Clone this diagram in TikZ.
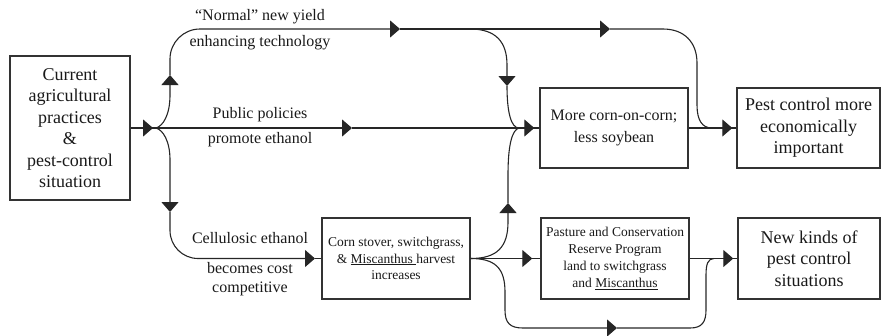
\documentclass[tikz,border=0pt]{standalone}
\usepackage{fontspec}
\setmainfont{Liberation Serif}
\usetikzlibrary{arrows.meta,decorations.markings}
\begin{document}
\begin{tikzpicture}[x=1pt,y=-1pt,
  ln/.style={line width=1.1pt,draw=black!85},
  bx/.style={draw=black!80,line width=1.4pt,align=center,inner sep=2pt,text=black!90},
  big/.style={font=\fontsize{18}{21.5}\selectfont},
  mid/.style={font=\fontsize{16}{22}\selectfont},
  sml/.style={font=\fontsize{13.5}{16.5}\selectfont},
  lab/.style={font=\fontsize{16}{19}\selectfont,align=center,text=black!90,inner sep=0pt},
  tip/.style={-{Triangle[length=10pt,width=17pt]}},
  arrowend/.style={postaction={decorate},decoration={markings,
     mark=at position -#1 with {\arrow{Triangle[length=10pt,width=17pt]}}}}
]
\useasboundingbox (0,0) rectangle (882,335);

% boxes
\node[bx,big,minimum width=120pt,minimum height=144pt] (cur) at (70,128)
  {Current\\agricultural\\practices\\\&\\pest-control\\situation};
\node[bx,mid,minimum width=148pt,minimum height=80pt] (corn) at (614,128)
  {More corn-on-corn;\\less soybean};
\node[bx,big,minimum width=143pt,minimum height=80pt] (pest) at (808.5,128)
  {Pest control more\\economically\\important};
\node[bx,sml,minimum width=148pt,minimum height=81pt] (stover) at (396,258.5)
  {Corn stover, switchgrass,\\\& \underline{Miscanthus }harvest\\increases};
\node[bx,sml,font=\fontsize{13.5}{17}\selectfont,minimum width=148pt,minimum height=81pt] (pasture) at (615,258.5)
  {Pasture and Conservation\\Reserve Program\\land to switchgrass\\and \underline{Miscanthus}};
\node[bx,big,minimum width=142pt,minimum height=81pt] (newk) at (809,258.5)
  {New kinds of\\pest control\\situations};

% labels
\node[lab] (l1a) at (260,17) {“Normal” new yield};
\node[lab] (l1b) at (260,43) {enhancing technology};
\node[lab] (l2a) at (260,115) {Public policies};
\node[lab] (l2b) at (260,140) {promote ethanol};
\node[lab] (l3a) at (250,238) {Cellulosic ethanol};
\node[lab,font=\fontsize{16}{18.5}\selectfont] (l3b) at (250,279) {becomes cost\\competitive};

% coordinates
\coordinate (J1) at (156,128);
\coordinate (U) at (170,75);
\coordinate (T1) at (400,29);
\coordinate (S1) at (470,29);
\coordinate (T2) at (610,29);
\coordinate (D1) at (507,86);
\coordinate (J2) at (519,128);
\coordinate (M1) at (352,128);
\coordinate (J3) at (712,128);
\coordinate (D2) at (170,212);
\coordinate (L1) at (315,258.5);
\coordinate (U2) at (508,203);
\coordinate (B1) at (617,328);
\coordinate (J4) at (714,258.5);

% left
\draw[ln,arrowend=3pt] (cur.east) -- (J1);
% upper branch
\draw[ln,tip] (J1) .. controls (163,126) and (170,115) .. (170,95) -- (U);
\draw[ln,tip,rounded corners=30pt] (U) |- (T1);
\draw[ln] (T1) -- (S1);
\draw[ln,tip] (S1) -- (T2);
\draw[ln] (T2) -- (663,29) .. controls (684,29) and (697,42) .. (697,63) -- (697,105)
   .. controls (697,120) and (702,128) .. (J3);
\draw[ln,tip] (S1) .. controls (496,29) and (507,42) .. (507,65) -- (D1);
\draw[ln] (D1) .. controls (507,112) and (511,128) .. (J2);
% middle
\draw[ln,tip] (J1) -- (M1);
\draw[ln] (M1) -- (J2);
\draw[ln,arrowend=5pt] (J2) -- (corn.west);
\draw[ln,arrowend=4pt] (corn.east) -- (pest.west);
% lower branch
\draw[ln,tip] (J1) .. controls (163,130) and (170,141) .. (170,160) -- (D2);
\draw[ln,tip,rounded corners=28pt] (D2) |- (L1);
\draw[ln] (L1) -- (stover.west);
% from stover
\draw[ln,tip] (stover.east) .. controls (497,258.5) and (508,247) .. (508,222) -- (U2);
\draw[ln] (U2) -- (508,175) .. controls (508,145) and (512,130) .. (J2);
\draw[ln,arrowend=8pt] (stover.east) -- (pasture.west);
\draw[ln,tip] (stover.east) .. controls (495,258.5) and (505,268) .. (505,292) -- (505,310)
   .. controls (505,323) and (510,328) .. (523,328) -- (B1);
\draw[ln] (B1) -- (690,328) .. controls (702,328) and (706,322) .. (706,310) -- (706,275)
   .. controls (706,264) and (708,258.5) .. (J4);
\draw[ln,arrowend=4pt] (pasture.east) -- (newk.west);
\end{tikzpicture}
\end{document}
